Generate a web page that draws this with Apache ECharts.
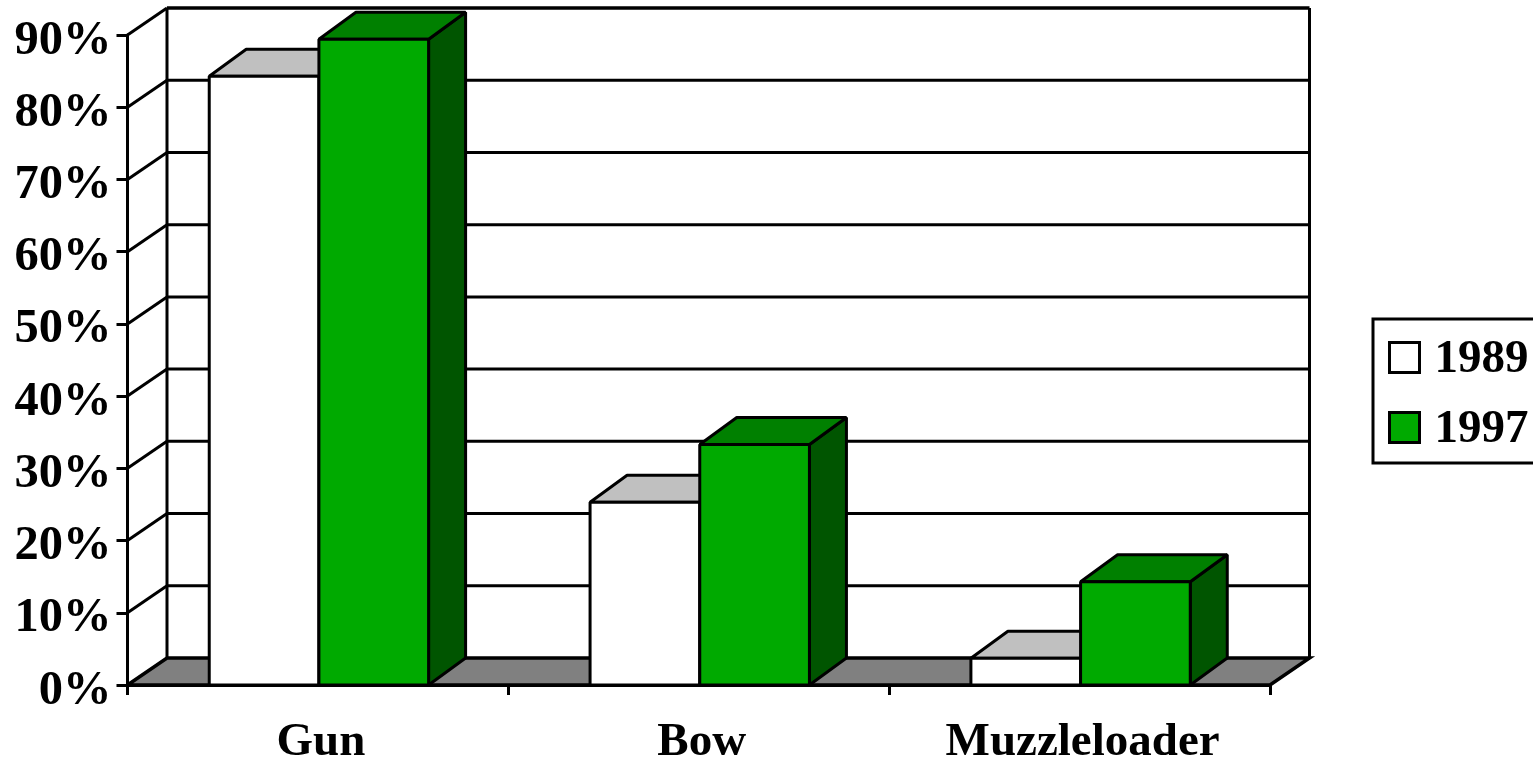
<!DOCTYPE html>
<html>
<head>
<meta charset="utf-8">
<style>html,body{margin:0;padding:0;background:#fff;overflow:hidden}#c{width:1533px;height:762px}</style>
<script src="https://cdn.jsdelivr.net/npm/echarts@6/dist/echarts.min.js"></script>
</head>
<body>
<div id="c"></div>
<script>
const categories = ['Gun', 'Bow', 'Muzzleloader'];
const values1989 = [84.3, 25.3, 3.7];
const values1997 = [89.4, 33.3, 14.3];
const yTicks = [0, 10, 20, 30, 40, 50, 60, 70, 80, 90];

const FONT = '"Liberation Serif", "Times New Roman", serif';
const WALL_DX = 39.5, BAR_DX = 37, DY = -27, BAR_FRAC = 0.288, BAR_SHIFT = 1, LW = 3;
const INK = '#000';

function wallItem(params, api) {
  const v = api.value(1);
  const p = api.coord([0, v]);
  const band = api.size([1, 0])[0];
  const x0 = p[0] - band / 2, x1 = x0 + band * categories.length, y = p[1];
  const children = [];
  if (v === yTicks[0]) {
    const top = api.coord([0, yTicks[yTicks.length - 1]])[1];
    children.push({ type: 'polygon', shape: { points: [[x0, y], [x0 + WALL_DX, y + DY], [x1 + WALL_DX, y + DY], [x1, y]] },
      style: { fill: '#808080', stroke: INK, lineWidth: LW + 0.5 } });
    children.push({ type: 'line', shape: { x1: x0 + WALL_DX, y1: top + DY, x2: x0 + WALL_DX, y2: y + DY }, style: { stroke: INK, lineWidth: LW } });
    children.push({ type: 'line', shape: { x1: x1 + WALL_DX, y1: top + DY, x2: x1 + WALL_DX, y2: y + DY }, style: { stroke: INK, lineWidth: LW } });
  } else {
    children.push({ type: 'line', shape: { x1: x0 + WALL_DX, y1: y + DY, x2: x1 + WALL_DX, y2: y + DY },
      style: { stroke: INK, lineWidth: v === yTicks[yTicks.length - 1] ? LW + 0.5 : LW } });
    children.push({ type: 'line', shape: { x1: x0, y1: y, x2: x0 + WALL_DX, y2: y + DY }, style: { stroke: INK, lineWidth: LW } });
  }
  return { type: 'group', children };
}

function barRender(sign, front, top, side) {
  return function (params, api) {
    const p = api.coord([api.value(0), api.value(1)]);
    const base = api.coord([api.value(0), 0])[1];
    const w = api.size([1, 0])[0] * BAR_FRAC;
    const c = p[0] + BAR_SHIFT;
    const l = sign < 0 ? c - w : c, r = l + w, t = p[1];
    const s = { stroke: INK, lineWidth: LW, lineJoin: 'bevel' };
    return { type: 'group', children: [
      { type: 'polygon', shape: { points: [[r, base], [r + BAR_DX, base + DY], [r + BAR_DX, t + DY], [r, t]] }, style: Object.assign({ fill: side }, s) },
      { type: 'polygon', shape: { points: [[l, t], [l + BAR_DX, t + DY], [r + BAR_DX, t + DY], [r, t]] }, style: Object.assign({ fill: top }, s) },
      { type: 'rect', shape: { x: l, y: t, width: w, height: base - t }, style: Object.assign({ fill: front }, s) }
    ] };
  };
}

const chart = echarts.init(document.getElementById('c'), null, { renderer: 'canvas' });
chart.setOption({
  animation: false,
  backgroundColor: '#fff',
  grid: { left: 127.5, right: 263, top: 35, bottom: 77, outerBoundsMode: 'none' },
  legend: {
    orient: 'vertical', left: 1373, top: 319,
    data: ['1989', '1997'],
    icon: 'rect', itemWidth: 30, itemHeight: 30, itemGap: 23,
    padding: [17, 10, 10, 15],
    borderColor: INK, borderWidth: 3, backgroundColor: '#fff',
    itemStyle: { borderColor: INK, borderWidth: 3 },
    formatter: name => '{t|' + name + '}',
    textStyle: { color: INK, rich: { t: { fontFamily: FONT, fontWeight: 'bold', fontSize: 47, color: INK, padding: [4, 0, 0, 10] } } },
    selectedMode: false
  },
  xAxis: {
    type: 'category', data: categories,
    axisLine: { lineStyle: { color: INK, width: LW } },
    axisTick: { show: true, alignWithLabel: false, length: 10, lineStyle: { color: INK, width: LW } },
    axisLabel: { fontFamily: FONT, fontWeight: 'bold', fontSize: 47, color: INK, margin: 34, padding: [0, 0, 0, 6] }
  },
  yAxis: {
    type: 'value', min: 0, max: 90, interval: 10,
    axisLine: { show: true, lineStyle: { color: INK, width: LW } },
    axisTick: { show: true, length: 11, lineStyle: { color: INK, width: LW } },
    splitLine: { show: false },
    axisLabel: { fontFamily: FONT, fontWeight: 'bold', fontSize: 48.5, color: INK, margin: 16, verticalAlign: 'top', lineHeight: 12, formatter: '{value}%' }
  },
  series: [
    { type: 'custom', name: 'walls', z: 1, silent: true, renderItem: wallItem, encode: { x: 0, y: 1 },
      data: yTicks.map(v => [0, v]) },
    { type: 'custom', name: '1989', z: 3, renderItem: barRender(-1, '#ffffff', '#c0c0c0', '#808080'), encode: { x: 0, y: 1 },
      itemStyle: { color: '#ffffff', borderColor: INK, borderWidth: LW },
      data: values1989.map((v, i) => [i, v]) },
    { type: 'custom', name: '1997', z: 4, renderItem: barRender(1, '#00aa00', '#008000', '#005500'), encode: { x: 0, y: 1 },
      itemStyle: { color: '#00aa00', borderColor: INK, borderWidth: LW },
      data: values1997.map((v, i) => [i, v]) }
  ]
});
</script>
</body>
</html>
